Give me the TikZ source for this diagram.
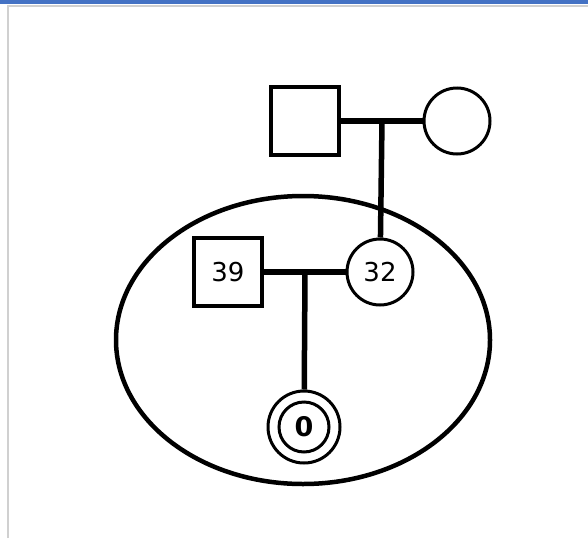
\documentclass[tikz,border=0pt]{standalone}
\usepackage{fontspec}
\setmainfont{DejaVu Sans}
\usetikzlibrary{shapes.geometric}
\definecolor{bar}{HTML}{4472C4}
\definecolor{frame}{HTML}{D0D0D0}
\begin{document}
\begin{tikzpicture}[x=1pt,y=-1pt,
  male/.style={draw=black,line width=3.2pt,minimum size=68pt,inner sep=0pt,rectangle,font=\fontsize{26}{30}\selectfont},
  female/.style={draw=black,line width=3pt,circle,minimum size=66pt,inner sep=0pt,font=\fontsize{26}{30}\selectfont},
  link/.style={line width=5.5pt},
  group/.style={draw=black,line width=4.5pt,ellipse,inner sep=0pt}]
  \useasboundingbox (0,0) rectangle (588,538);
  % window chrome
  \fill[bar] (0,0) rectangle (588,3.5);
  \draw[frame,line width=2pt] (8,538) -- (8,6) -- (588,6);
  % family group
  \node[group,minimum width=374pt,minimum height=288pt] (grp) at (303,340) {};
  % parents of 32
  \node[male] (gf) at (305,121) {};
  \node[female] (gm) at (457,121) {};
  \coordinate (m1) at (382,121);
  % couple
  \node[male] (p39) at (228,272) {39};
  \node[female] (p32) at (380,272) {32};
  \coordinate (m2) at (305,272);
  % proband
  \node[female,minimum size=72pt] (kid) at (304,427) {};
  \node[circle,draw=black,line width=3pt,minimum size=50pt,inner sep=0pt,font=\fontsize{27}{30}\selectfont\bfseries] (kidin) at (kid.center) {0};
  % connectors
  \draw[link] (gf) -- (gm);
  \draw[link] (m1) -- (p32);
  \draw[link] (p39) -- (p32);
  \draw[link] (m2) -- (kid);
\end{tikzpicture}
\end{document}
